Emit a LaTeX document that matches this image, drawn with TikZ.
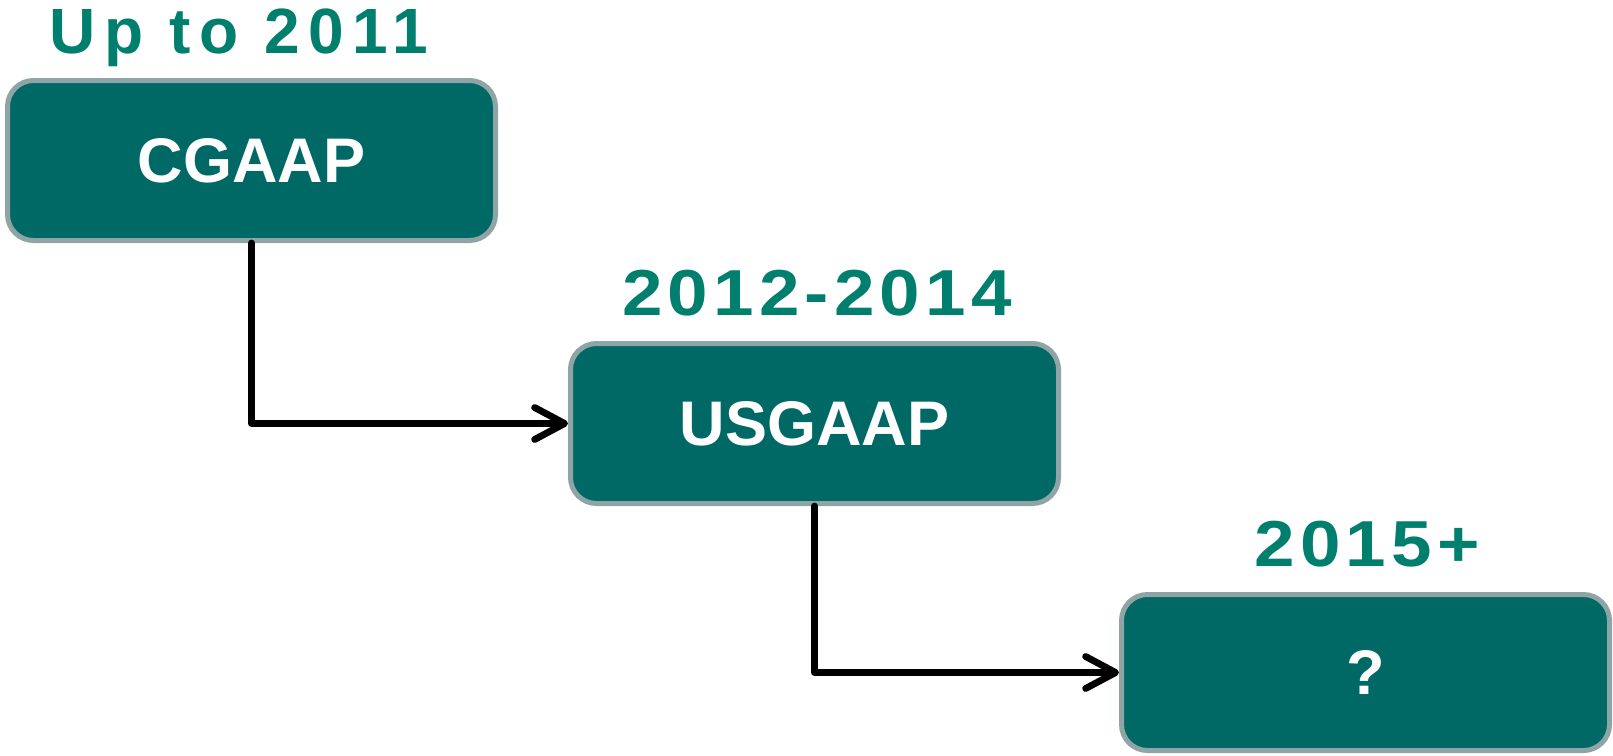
\documentclass[tikz,border=0pt]{standalone}
\usepackage{fontspec}
\setmainfont{Liberation Sans}
\usetikzlibrary{arrows.meta}
\definecolor{boxfill}{HTML}{006966}
\definecolor{boxline}{HTML}{8FA5A5}
\definecolor{titlecol}{HTML}{007E6E}
\tikzset{
  stagebox/.style={draw=boxline, fill=boxfill, line width=5pt, rounded corners=26pt,
    minimum width=488pt, minimum height=160pt, text=white,
    font=\fontsize{63}{70}\selectfont\bfseries, inner sep=0pt},
  stagetitle/.style={text=titlecol, inner sep=0pt, anchor=base,
    font=\fontsize{65}{72}\selectfont\bfseries\addfontfeature{FakeStretch=1.12,LetterSpace=8}},
  flow/.style={line width=6.8pt, line join=round, line cap=round,
    -{Straight Barb[length=30pt, width=32pt, round]}}
}
\begin{document}
\begin{tikzpicture}[x=1pt, y=-1pt]
\useasboundingbox (0,0) rectangle (1613,755);
\node[stagebox] (b1) at (251.5,160.5) {CGAAP};
\node[stagebox] (b2) at (814.5,423.5) {USGAAP};
\node[stagebox, minimum height=156pt] (b3) at (1365.5,672.5) {?};
\node[stagetitle, font=\fontsize{64}{72}\selectfont\bfseries\addfontfeature{LetterSpace=13}] (t1) at (239,53) {Up to 2011};
\node[stagetitle] (t2) at (817,315) {2012-2014};
\node[stagetitle] (t3) at (1367,566) {2015+};
\draw[flow] (b1.south) |- (b2.west);
\draw[flow] (b2.south) |- (b3.west);
\end{tikzpicture}
\end{document}
